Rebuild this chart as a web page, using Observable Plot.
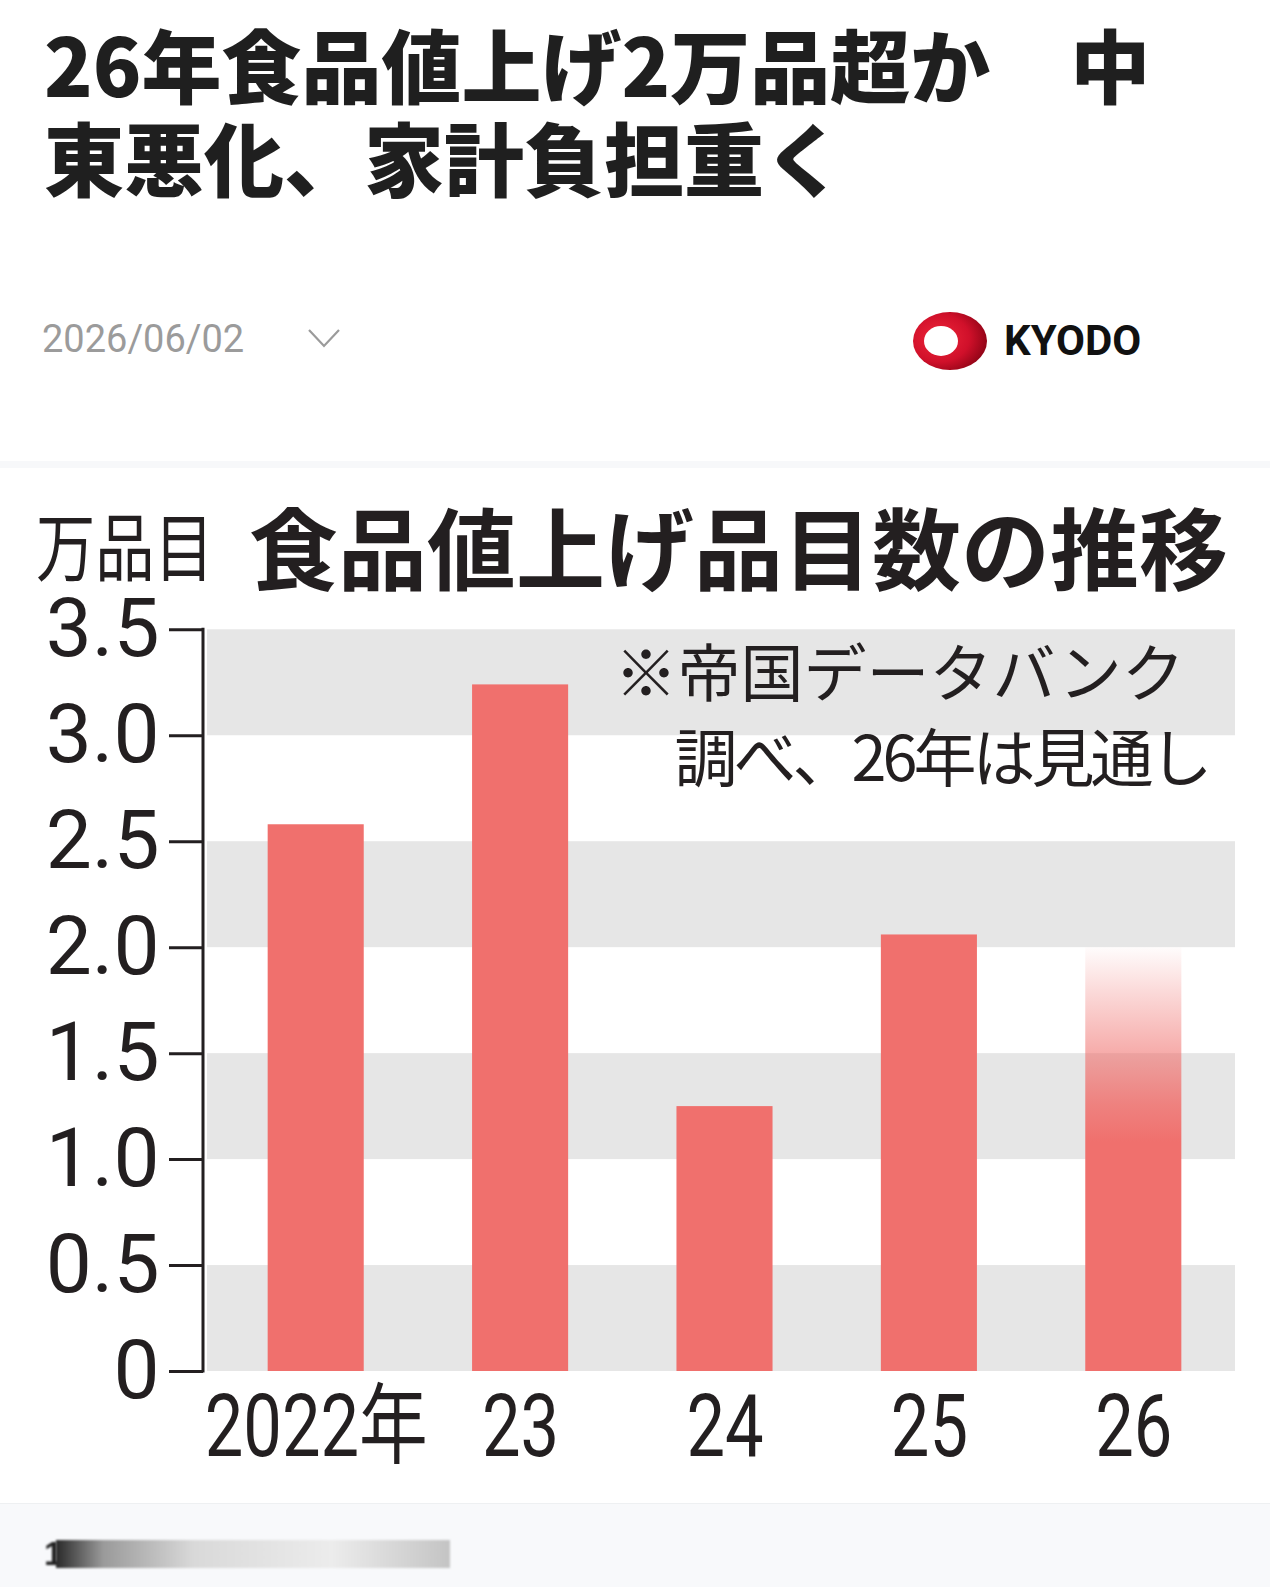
<!DOCTYPE html>
<html lang="ja">
<head>
<meta charset="utf-8">
<script src="https://cdn.jsdelivr.net/npm/d3@7"></script>
<script src="https://cdn.jsdelivr.net/npm/@observablehq/plot@0.6"></script>
<style>
  html, body { margin: 0; padding: 0; background: #fff; }
  #page { position: relative; width: 1270px; height: 1587px; overflow: hidden; background: #fff; }
  .abs { position: absolute; white-space: nowrap; }
  .tl { left: 44px; font-family: "Noto Sans CJK JP", sans-serif; font-weight: 900; font-size: 80px; line-height: 80px; color: #1f1f1f; }
  #title1 { top: 22px; }
  #title2 { top: 115px; }
  #date { left: 42px; top: 320px; font-family: Roboto, "Noto Sans", sans-serif; font-size: 38px; line-height: 38px; color: #9b9b9b; }
  #kyodo { left: 1004px; top: 320px; font-family: Roboto, "Liberation Sans", sans-serif; font-weight: 700; font-size: 42px; line-height: 42px; color: #111; }
  #unit { left: 36px; top: 506px; font-family: "Noto Sans CJK JP", sans-serif; font-weight: 400; font-size: 74px; line-height: 74px; color: #231f20; transform: scaleX(0.8); transform-origin: 0 0; }
  #ctitle { left: 249px; top: 500px; font-family: "Noto Sans CJK JP", sans-serif; font-weight: 700; font-size: 89px; line-height: 89px; color: #231f20; }
  #chart { left: 0; top: 590px; }
  #sepTop { left: 0; top: 461px; width: 1270px; height: 7px; background: #f7f8fa; }
  #bottom { left: 0; top: 1503px; width: 1270px; height: 84px; background: #f8f9fb; border-top: 1px solid #eef0f2; }
  #blurOne { left: 44px; top: 1536px; font-family: "Liberation Sans", sans-serif; font-weight: 700; font-size: 34px; line-height: 34px; color: #222; filter: blur(1px); }
  #blurBar { left: 56px; top: 1540px; width: 394px; height: 28px; background: linear-gradient(to right, #2a2a2a 0%, #9a9a9a 12%, #d9d9d9 35%, #ececec 70%, #c4c4c4 100%); filter: blur(1.2px); }
</style>
</head>
<body>
<div id="page">
  <div id="title1" class="abs tl">26年食品値上げ2万品超か　中</div>
  <div id="title2" class="abs tl">東悪化、家計負担重く</div>
  <div id="date" class="abs">2026/06/02</div>
  <svg class="abs" style="left:306px;top:326px" width="36" height="24"><polyline points="3,4 18,20 33,4" fill="none" stroke="#9b9b9b" stroke-width="2.2"/></svg>
  <svg class="abs" style="left:910px;top:308px" width="84" height="66">
    <defs>
      <radialGradient id="ring" cx="0.35" cy="0.45" r="0.75">
        <stop offset="0" stop-color="#f0263a"/>
        <stop offset="0.55" stop-color="#d0102a"/>
        <stop offset="1" stop-color="#7a0010"/>
      </radialGradient>
    </defs>
    <ellipse cx="40" cy="33" rx="37" ry="29" fill="url(#ring)"/>
    <ellipse cx="31" cy="33" rx="17" ry="15" fill="#fff"/>
  </svg>
  <div id="kyodo" class="abs">KYODO</div>
  <div id="sepTop" class="abs"></div>
  <div id="unit" class="abs">万品目</div>
  <div id="ctitle" class="abs">食品値上げ品目数の推移</div>
  <div id="chart" class="abs"></div>
  <div id="bottom" class="abs"></div>
  <div id="blurOne" class="abs">1</div>
  <div id="blurBar" class="abs"></div>
</div>
<script>
// ---- data (万品目) ----
const years = ["2022年", "23", "24", "25", "26"];
const counts = [2.58, 3.24, 1.25, 2.06, 2.0];
const kinds = ["実績", "実績", "実績", "実績", "見通し"];
const yTicks = [0, 0.5, 1, 1.5, 2, 2.5, 3, 3.5];
const stripeLo = [0, 1, 2, 3];
const stripeHi = [0.5, 1.5, 2.5, 3.5];
const noteLines = ["※帝国データバンク", "調べ、26年は見通し"];

const rows = years.map((year, i) => ({year, value: counts[i], kind: kinds[i]}));
const stripes = stripeLo.map((lo, i) => ({lo, hi: stripeHi[i]}));

const ink = "#231f20";
const barColor = "#f0706d";
const numFont = "Roboto, 'Noto Sans CJK JP', sans-serif";
const jpFont = "'Noto Sans CJK JP', sans-serif";

function decor(index, scales, values, dims) {
  const g = d3.create("svg:g");
  const lg = g.append("defs").append("linearGradient")
    .attr("id", "fade26").attr("x1", 0).attr("y1", 0).attr("x2", 0).attr("y2", 1);
  [[0, 0.02], [0.1, 0.25], [0.25, 0.58], [0.37, 0.85], [0.46, 1], [1, 1]].forEach(([o, a]) =>
    lg.append("stop").attr("offset", o).attr("stop-color", barColor).attr("stop-opacity", a));
  g.append("line")
    .attr("x1", dims.marginLeft).attr("x2", dims.marginLeft)
    .attr("y1", scales.y(3.5) - 1.5).attr("y2", scales.y(0) + 1.5)
    .attr("stroke", ink).attr("stroke-width", 3);
  return g.node();
}

const chart = Plot.plot({
  width: 1270,
  height: 890,
  marginLeft: 203,
  marginRight: 35,
  marginTop: 39.3,
  marginBottom: 109,
  style: {fontFamily: numFont, color: ink, background: "transparent", overflow: "visible"},
  x: {domain: years, range: [213.5, 1235.5], paddingInner: 0.53, paddingOuter: 0.265, round: false},
  y: {domain: [0, 3.5]},
  marks: [
    Plot.rect(stripes, {y1: "lo", y2: "hi", fill: "#e6e6e6", insetLeft: 4}),
    Plot.barY(rows, {filter: d => d.kind === "実績", x: "year", y: "value", fill: barColor}),
    Plot.barY(rows, {filter: d => d.kind === "見通し", x: "year", y: "value", fill: "url(#fade26)"}),
    decor,
    Plot.axisY(yTicks, {tickSize: 34, tickPadding: 10, tickFormat: d => d === 0 ? "0" : d.toFixed(1),
      fontSize: 82, stroke: ink, strokeWidth: 3, fill: ink, label: null, fontFamily: numFont}),
    Plot.axisX({tickSize: 0, tickPadding: 22, fontSize: 88, fill: ink, label: null, fontFamily: numFont}),
    Plot.text([noteLines[0]], {text: d => d, frameAnchor: "top-left", dx: 411, dy: 46,
      textAnchor: "start", lineAnchor: "middle", fontSize: 63, fontFamily: jpFont, fill: ink}),
    Plot.text([noteLines[1]], {text: d => d, frameAnchor: "top-left", dx: 471, dy: 131,
      textAnchor: "start", lineAnchor: "middle", fontSize: 63, fontFamily: jpFont, fill: ink})
  ]
});

// condense the x tick labels horizontally, as in the original newspaper font
d3.select(chart).selectAll('g[aria-label="x-axis tick label"] text').each(function() {
  const t = this.getAttribute("transform");
  if (t) {
    this.setAttribute("transform", t + " scale(0.78,1)");
  } else {
    const x = this.getAttribute("x") || 0, y = this.getAttribute("y") || 0;
    this.removeAttribute("x"); this.removeAttribute("y");
    this.setAttribute("transform", `translate(${x},${y}) scale(0.78,1)`);
  }
});
d3.select(chart).selectAll('g[aria-label="text"] text').style("letter-spacing", function() {
  return this.textContent === noteLines[1] ? "-4px" : null;
});

document.getElementById("chart").appendChild(chart);
</script>
</body>
</html>
